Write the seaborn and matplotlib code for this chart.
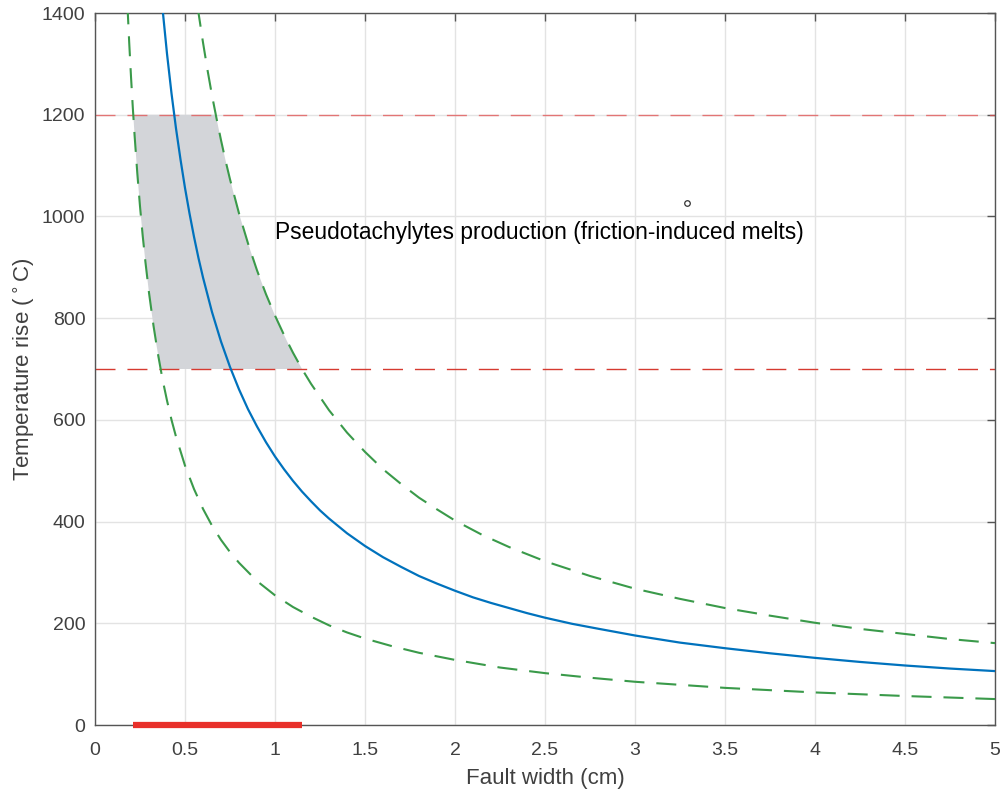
import numpy as np
import pandas as pd
import matplotlib
matplotlib.use("Agg")
import matplotlib.pyplot as plt
import seaborn as sns

# ---- data ----
blue_x = [0.37, 0.40, 0.425, 0.45, 0.475, 0.50, 0.525, 0.55, 0.575, 0.60, 0.65, 0.70, 0.75,
          0.80, 0.85, 0.90, 0.95, 1.00, 1.05, 1.10, 1.15, 1.20, 1.25, 1.30, 1.40, 1.50,
          1.60, 1.70, 1.80, 1.90, 2.00, 2.10, 2.20, 2.30, 2.40, 2.50, 2.65, 2.80, 3.00,
          3.25, 3.50, 3.75, 4.00, 4.25, 4.50, 4.75, 5.00]
blue_y = [1427, 1320, 1242, 1173, 1112, 1056, 1006, 960, 918, 880, 812, 754, 704,
          660, 621, 587, 556, 528, 503, 480, 459, 440, 422, 406, 377, 352,
          330, 311, 293, 278, 264, 251, 240, 230, 220, 211, 199, 189, 176,
          162, 151, 141, 132, 124, 117, 111, 106]

upper_x = [0.57, 0.60, 0.625, 0.65, 0.675, 0.70, 0.725, 0.75, 0.80, 0.85, 0.90, 0.95, 1.00,
           1.05, 1.10, 1.15, 1.20, 1.30, 1.40, 1.50, 1.60, 1.70, 1.80, 1.90, 2.00, 2.15,
           2.30, 2.50, 2.75, 3.00, 3.25, 3.50, 3.75, 4.00, 4.25, 4.50, 4.75, 5.00]
upper_y = [1412, 1342, 1288, 1238, 1193, 1150, 1110, 1073, 1006, 947, 894, 847, 805,
           767, 732, 700, 671, 619, 575, 537, 503, 474, 447, 424, 402, 374,
           350, 322, 293, 268, 248, 230, 215, 201, 189, 179, 169, 161]

lower_x = [0.18, 0.19, 0.20, 0.21, 0.22, 0.235, 0.25, 0.265, 0.28, 0.30, 0.325, 0.35, 0.375,
           0.40, 0.425, 0.45, 0.50, 0.55, 0.60, 0.65, 0.70, 0.75, 0.80, 0.90, 1.00, 1.10,
           1.20, 1.30, 1.40, 1.50, 1.65, 1.80, 2.00, 2.25, 2.50, 2.75, 3.00, 3.50, 4.00,
           4.50, 5.00]
lower_y = [1417, 1342, 1275, 1214, 1159, 1085, 1020, 962, 911, 850, 785, 729, 680,
           638, 600, 567, 510, 464, 425, 392, 364, 340, 319, 283, 255, 232,
           213, 196, 182, 170, 155, 142, 128, 113, 102, 93, 85, 73, 64,
           57, 51]

# melt window (shaded)
shade_y = [1200, 1150, 1100, 1050, 1000, 950, 900, 850, 800, 750, 700]
shade_left_x = [0.2125, 0.2217, 0.2318, 0.2429, 0.255, 0.2684, 0.2833, 0.300, 0.3188, 0.340, 0.3643]
shade_right_x = [0.6708, 0.700, 0.7318, 0.7667, 0.805, 0.8474, 0.8944, 0.947, 1.006, 1.073, 1.150]

melt_levels = [1200, 700]
width_range = [0.21, 1.15]
marker_pt = (3.29, 1027)
label_text = "Pseudotachylytes production (friction-induced melts)"
label_pos = (1.0, 969)

xticks = [0, 0.5, 1, 1.5, 2, 2.5, 3, 3.5, 4, 4.5, 5]
xticklabels = ["0", "0.5", "1", "1.5", "2", "2.5", "3", "3.5", "4", "4.5", "5"]
yticks = [0, 200, 400, 600, 800, 1000, 1200, 1400]

# ---- style ----
sns.set_style("white")
plt.rcParams['font.family'] = ['Liberation Sans', 'DejaVu Sans']
plt.rcParams['lines.scale_dashes'] = False

fig = plt.figure(figsize=(10.02, 7.91), dpi=100)
ax = fig.add_axes([95/1002, 1 - 725/791, 900/1002, 712/791])

axcol = '#404040'
ax.set_xlim(0, 5)
ax.set_ylim(0, 1400)
ax.set_xticks(xticks)
ax.set_xticklabels(xticklabels)
ax.set_yticks(yticks)
ax.grid(True, color='#e3e3e3', linewidth=1.0)
ax.set_axisbelow(True)
for s in ax.spines.values():
    s.set_visible(True)
    s.set_color('#555555')
    s.set_linewidth(1.0)
ax.tick_params(direction='in', length=6, width=1.0, color='#555555',
               top=True, right=True, labelsize=14, labelcolor=axcol)
ax.tick_params(axis='x', pad=12)
ax.tick_params(axis='y', pad=7)

# shaded region
poly_x = shade_left_x + shade_right_x[::-1]
poly_y = shade_y + shade_y[::-1]
ax.fill(poly_x, poly_y, color='#d3d5d9', lw=0, zorder=1)

# horizontal dashed lines
ax.axhline(melt_levels[0], color='#e25050', alpha=0.75, lw=1.0, ls=(0, (14.4, 8.6)), zorder=2)
ax.axhline(melt_levels[1], color='#d63a30', lw=1.0, ls=(0, (14.4, 8.6)), zorder=2)

df_b = pd.DataFrame({'x': blue_x, 'y': blue_y})
df_u = pd.DataFrame({'x': upper_x, 'y': upper_y})
df_l = pd.DataFrame({'x': lower_x, 'y': lower_y})
sns.lineplot(data=df_b, x='x', y='y', ax=ax, color='#0072BD', lw=1.6, sort=True, zorder=4)
for d in (df_u, df_l):
    sns.lineplot(data=d, x='x', y='y', ax=ax, color='#3a9a4a', lw=1.5, sort=True, zorder=3,
                 linestyle=(0, (14.4, 8.6)))

# red range bar on x axis
ax.plot(width_range, [0, 0], color='#e8302a', lw=4.5, solid_capstyle='butt',
        clip_on=False, zorder=5)

ax.plot([marker_pt[0]], [marker_pt[1]], 'o', ms=4, mfc='white', mec='#333333', mew=0.9)
ax.text(label_pos[0], label_pos[1], label_text, fontsize=16.4, color='black',
        ha='left', va='center')

ax.set_xlabel("Fault width (cm)", fontsize=16, color=axcol, labelpad=7)
ax.set_ylabel("Temperature rise ($^\\circ$C)", fontsize=16, color=axcol, labelpad=3)

fig.savefig("out.png", dpi=100)
